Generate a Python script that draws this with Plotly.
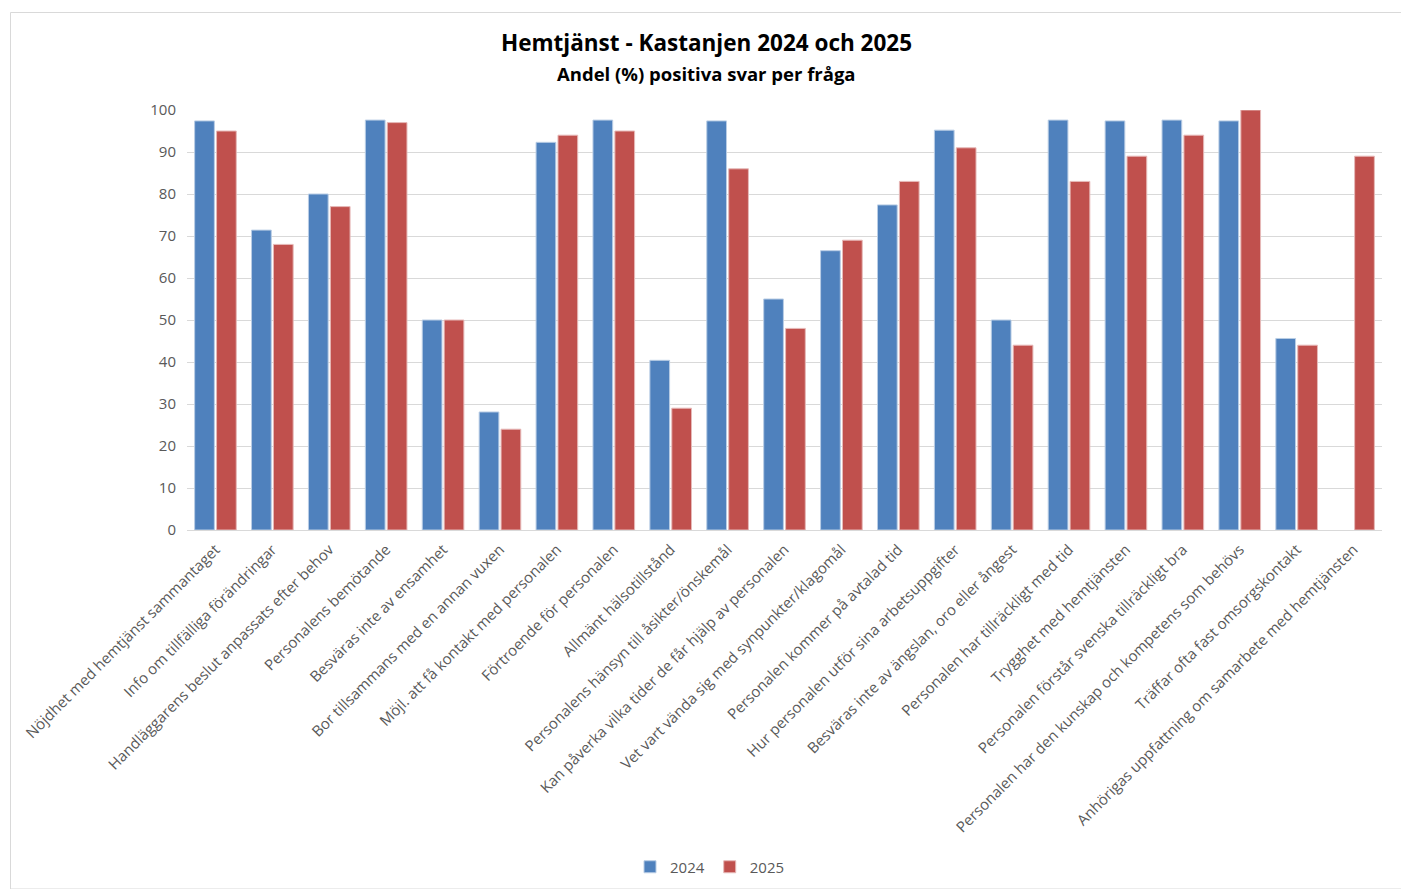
import plotly.graph_objects as go

categories = [
    "Nöjdhet med hemtjänst sammantaget",
    "Info om tillfälliga förändringar",
    "Handläggarens beslut anpassats efter behov",
    "Personalens bemötande",
    "Besväras inte av ensamhet",
    "Bor tillsammans med en annan vuxen",
    "Möjl. att få kontakt med personalen",
    "Förtroende för personalen",
    "Allmänt hälsotillstånd",
    "Personalens hänsyn till åsikter/önskemål",
    "Kan påverka vilka tider de får hjälp av personalen",
    "Vet vart vända sig med synpunkter/klagomål",
    "Personalen kommer på avtalad tid",
    "Hur personalen utför sina arbetsuppgifter",
    "Besväras inte av ängslan, oro eller ångest",
    "Personalen har tillräckligt med tid",
    "Trygghet med hemtjänsten",
    "Personalen förstår svenska tillräckligt bra",
    "Personalen har den kunskap och kompetens som behövs",
    "Träffar ofta fast omsorgskontakt",
    "Anhörigas uppfattning om samarbete med hemtjänsten",
]
values_2024 = [97.4, 71.4, 80.0, 97.6, 50.0, 28.1, 92.3, 97.6, 40.4, 97.4, 55.0,
               66.5, 77.4, 95.2, 50.0, 97.6, 97.4, 97.6, 97.4, 45.6, None]
values_2025 = [95.0, 68.0, 77.0, 97.0, 50.0, 24.0, 94.0, 95.0, 29.0, 86.0, 48.0,
               69.0, 83.0, 91.0, 44.0, 83.0, 89.0, 94.0, 100.0, 44.0, 89.0]
series_names = ["2024", "2025"]
y_ticks = [0, 10, 20, 30, 40, 50, 60, 70, 80, 90, 100]

# page offset (browser body margin)
OFF = 8
W, H = 1409 - OFF, 889 - OFF
L, R, T, B = 187 - OFF, 1382 - OFF, 110 - OFF, 530 - OFF
pw, ph = R - L, B - T

def px_x(x):
    return (x - OFF - L) / pw

def px_y(y):
    return (B - (y - OFF)) / ph

font = "Open Sans, sans-serif"
gray = "#595959"

fig = go.Figure()
fig.add_trace(go.Bar(x=categories, y=values_2024, name=series_names[0],
                     marker=dict(color="#4F81BD", line=dict(color="#B9CDE5", width=1))))
fig.add_trace(go.Bar(x=categories, y=values_2025, name=series_names[1],
                     marker=dict(color="#C0504D", line=dict(color="#E6B9B8", width=1))))

fig.update_layout(
    width=W, height=H,
    margin=dict(l=L, r=W - R, t=T, b=H - B, autoexpand=False),
    paper_bgcolor="white", plot_bgcolor="white",
    barmode="group", bargap=0.23, bargroupgap=0.1,
    font=dict(family=font, color=gray, size=15),
    showlegend=True,
    legend=dict(orientation="h", x=px_x(710), xanchor="center", y=px_y(867), yanchor="middle",
                font=dict(size=15, color=gray), itemwidth=30, traceorder="normal"),
    annotations=[
        dict(text="<b>Hemtjänst - Kastanjen 2024 och 2025</b>", xref="paper", yref="paper",
             x=px_x(706), y=px_y(43), xanchor="center", yanchor="middle", showarrow=False,
             font=dict(size=22.5, color="black", family=font)),
        dict(text="<b>Andel (%) positiva svar per fråga</b>", xref="paper", yref="paper",
             x=px_x(706), y=px_y(73), xanchor="center", yanchor="middle", showarrow=False,
             font=dict(size=18.5, color="black", family=font)),
    ],
    shapes=[
        dict(type="rect", xref="paper", yref="paper",
             x0=px_x(10.5), x1=px_x(1401.5), y0=px_y(889), y1=px_y(12.5),
             line=dict(color="#D9D9D9", width=1), fillcolor="rgba(0,0,0,0)", layer="below"),
    ],
)
fig.update_xaxes(tickangle=-45, showline=True, linecolor="#D9D9D9", linewidth=1,
                 ticks="", tickfont=dict(size=15, color=gray), showgrid=False,
                 ticklabelstandoff=4)
fig.update_yaxes(range=[0, 100], tickvals=y_ticks, showgrid=True, gridcolor="#D9D9D9",
                 gridwidth=1, zeroline=False, tickfont=dict(size=15, color=gray), ticks="",
                 ticklabelstandoff=10)

fig.write_html("out.html")
